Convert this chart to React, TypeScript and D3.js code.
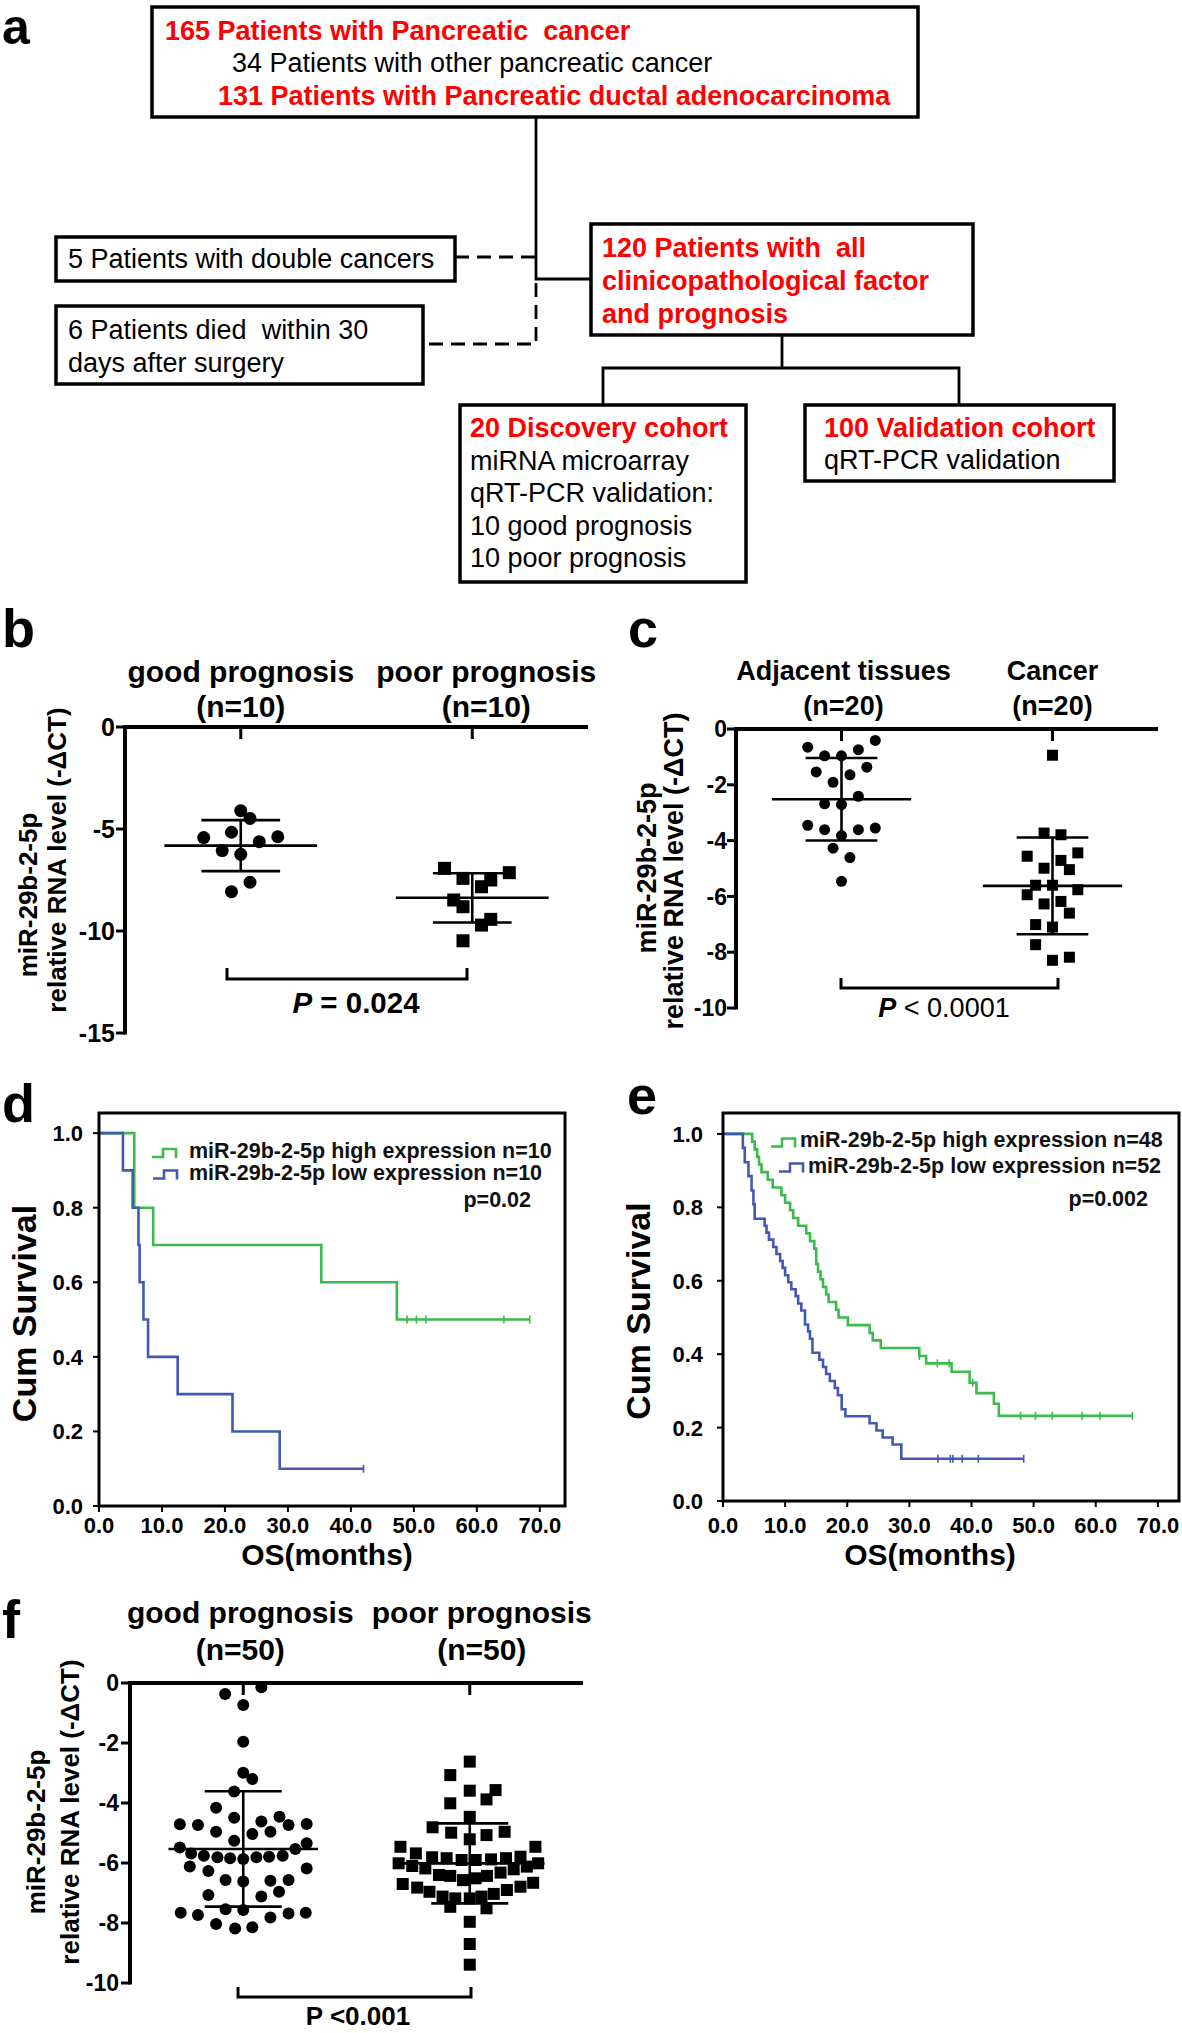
import React from 'react';
import * as d3 from 'd3';

const FONT = "'Liberation Sans', Arial, Helvetica, sans-serif";
const RED = '#ff0000';
const GREEN = '#3dba4e';
const BLUE = '#4358b5';

// ---------- Panel a : flow chart texts ----------
const aTopLines = ['165 Patients with Pancreatic  cancer', '34 Patients with other pancreatic cancer', '131 Patients with Pancreatic ductal adenocarcinoma'];
const aExcluded1 = ['5 Patients with double cancers'];
const aExcluded2 = ['6 Patients died  within 30', 'days after surgery'];
const aIncluded = ['120 Patients with  all', 'clinicopathological factor', 'and prognosis'];
const aDiscovery = ['20 Discovery cohort', 'miRNA microarray', 'qRT-PCR validation:', '10 good prognosis', '10 poor prognosis'];
const aValidation = ['100 Validation cohort', 'qRT-PCR validation'];

// ---------- Panel b ----------
const bCategories = ['good prognosis', 'poor prognosis'];
const bCounts = ['(n=10)', '(n=10)'];
const bGood = [-4.10, -4.48, -5.42, -5.16, -5.38, -5.62, -6.06, -6.24, -7.61, -8.07];
const bGoodJitter = [0, 2, -8, -2, 8, 4, -4, 0, 2, -2];
const bPoor = [-6.93, -7.14, -7.42, -7.50, -7.83, -8.48, -8.81, -9.43, -9.71, -10.48];
const bPoorJitter = [-6, 8, -2, 4, 2, -4, -2, 4, 2, -2];
const bTicks = [0, -5, -10, -15];

// ---------- Panel c ----------
const cCategories = ['Adjacent tissues', 'Cancer'];
const cCounts = ['(n=20)', '(n=20)'];
const cAdjacent = [-0.41, -0.65, -0.74, -0.96, -0.96, -1.37, -1.54, -1.64, -1.91, -2.41, -2.68, -2.71, -3.45, -3.61, -3.61, -3.55, -3.82, -4.27, -4.61, -5.46];
const cAdjacentJitter = [8, -8, 4, -4, 0, 6, -6, 2, -2, 4, -4, 0, -8, -4, 4, 8, 0, -2, 2, 0];
const cCancer = [-0.94, -3.73, -3.79, -4.56, -4.44, -4.71, -4.99, -5.04, -5.6, -5.6, -5.76, -5.94, -6.18, -6.27, -6.6, -7.01, -7.1, -7.73, -8.18, -8.29];
const cCancerJitter = [0, -2, 2, -6, 6, 2, -2, 4, -4, 0, 6, -6, 2, -2, 4, -4, 0, -4, 4, 0];
const cTicks = [0, -2, -4, -6, -8, -10];

// ---------- Panel d ----------
const dHighTimes = [5.6, 8.6, 35.3, 47.3];
const dHighSurv = [0.8, 0.7, 0.6, 0.5];
const dHighCensor = [48.9, 50.4, 51.9, 64.3, 68.4];
const dHighEnd = 68.4;
const dLowTimes = [3.8, 5.35, 6.27, 6.45, 7.06, 7.79, 12.49, 21.2, 28.7];
const dLowSurv = [0.9, 0.8, 0.7, 0.6, 0.5, 0.4, 0.3, 0.2, 0.1];
const dLowCensor = [42.0];
const dLowEnd = 42.0;

// ---------- Panel e ----------
const eHighTimes = [4.7, 5.1, 5.5, 5.8, 6.2, 7.2, 8.0, 9.4, 10.0, 10.8, 11.3, 12.1, 13.4, 14.0, 14.7, 15.0, 15.3, 15.7, 16.1, 16.6, 17.0, 18.2, 18.6, 20.1, 23.6, 24.1, 25.4, 31.6, 32.7, 36.8, 39.7, 40.8, 43.6, 44.4];
const eHighSurv = [0.979, 0.958, 0.9375, 0.917, 0.896, 0.875, 0.854, 0.833, 0.8125, 0.792, 0.771, 0.75, 0.729, 0.708, 0.6875, 0.646, 0.625, 0.604, 0.583, 0.5625, 0.542, 0.521, 0.5, 0.479, 0.458, 0.4375, 0.417, 0.395, 0.375, 0.352, 0.322, 0.294, 0.265, 0.232];
const eHighCensor = [31.6, 34.5, 36.4, 40.2, 47.9, 50.3, 53.0, 57.8, 60.7, 65.9];
const eHighEnd = 65.9;
const eLowTimes = [3.2, 3.5, 4.1, 4.6, 4.9, 5.1, 6.7, 7.0, 7.4, 8.1, 8.6, 9.2, 9.6, 10.0, 10.5, 11.0, 11.7, 12.1, 12.6, 13.2, 13.7, 14.0, 14.4, 15.5, 16.1, 16.6, 17.2, 18.0, 18.5, 19.1, 19.7, 23.6, 24.7, 25.7, 27.3, 28.7];
const eLowSurv = [0.962, 0.923, 0.885, 0.846, 0.808, 0.769, 0.75, 0.731, 0.712, 0.692, 0.673, 0.654, 0.635, 0.615, 0.596, 0.577, 0.558, 0.538, 0.519, 0.481, 0.462, 0.442, 0.404, 0.385, 0.365, 0.346, 0.327, 0.308, 0.288, 0.25, 0.231, 0.212, 0.192, 0.173, 0.154, 0.115];
const eLowCensor = [34.6, 36.6, 37.0, 38.5, 41.1, 48.4];
const eLowEnd = 48.4;

const kmTicksX = [0, 10, 20, 30, 40, 50, 60, 70];
const kmTicksY = [0, 0.2, 0.4, 0.6, 0.8, 1.0];

// ---------- Panel f ----------
const fCategories = ['good prognosis', 'poor prognosis'];
const fCounts = ['(n=50)', '(n=50)'];
const fGood = [-0.37, -0.14, -0.73, -1.96, -2.99, -3.2, -3.62, -4.16, -4.49, -4.46, -4.62, -4.71, -4.73, -4.73, -4.70, -4.96, -4.96, -5.03, -5.26, -5.48, -5.34, -5.53, -5.68, -5.76, -5.81, -5.84, -5.87, -5.81, -5.79, -5.76, -6.12, -6.18, -6.27, -6.57, -6.62, -6.59, -6.57, -6.96, -7.07, -7.12, -7.54, -7.57, -7.66, -7.73, -7.68, -7.66, -7.82, -8.03, -8.18, -8.14];
const fGoodJitter = [-4, 4, 0, 0, 0, 2, -2, -6, -2, 8, 4, -14, -10, 10, 14, -6, 6, 2, -2, -14, 14, 11.5, -11.5, -8.7, -5.7, -2.9, 0, 2.9, 5.7, 8.7, -11.8, 14, -7.7, -3.9, 0, 6, 10, 7.9, -7.7, 4, -3.9, 0, -13.8, -10, 10, 13.8, 6, -6, -1.8, 2];
const fPoor = [-2.62, -3.07, -3.59, -3.57, -3.88, -4.01, -4.46, -4.81, -4.99, -5.07, -4.96, -5.21, -5.46, -5.46, -5.68, -5.81, -5.84, -5.9, -5.9, -5.88, -5.84, -5.79, -6.01, -6.01, -6.1, -6.18, -6.4, -6.43, -6.57, -6.51, -6.43, -6.32, -6.21, -6.12, -6.7, -6.82, -6.96, -7.12, -7.18, -7.18, -7.12, -7.03, -6.9, -6.79, -6.66, -7.46, -7.51, -7.96, -8.7, -9.39];
const fPoorJitter = [0, -4.3, 0, 5.7, 3.7, -4.3, 0, -8.2, -4.1, 3.7, 7.7, 0, -15.3, 14.5, -11.9, -8.3, -5.1, -1.8, 1.3, 4.7, 8, 11.2, -15.7, 15.1, -12.7, -9.8, -6.8, -4.3, -1.5, 1.3, 3.8, 6.8, 9.7, 12.6, -14.8, -11.6, -8.9, -6, -3.2, 0, 2.6, 5.3, 8.2, 11.2, 14, -4.3, 3.7, 0, 0, 0];

type Group = { values: number[]; jitter: number[]; shape: 'circle' | 'square' };

function Flowchart() {
  const box = { stroke: '#000', strokeWidth: 3.5, fill: 'none' } as const;
  const ln = { stroke: '#000', strokeWidth: 2.8, fill: 'none' } as const;
  const T = (key: string, x: number, y: number, s: string, red: boolean, bold: boolean) => (
    <text key={key} x={x} y={y} fontSize={27} fill={red ? RED : '#000'} fontWeight={bold ? 700 : 400} style={{ whiteSpace: 'pre' }}>{s}</text>
  );
  return (
    <g>
      <rect x={152} y={7} width={766} height={110} {...box} />
      {T('t0', 165, 40, aTopLines[0], true, true)}
      {T('t1', 232, 72, aTopLines[1], false, false)}
      {T('t2', 218, 105, aTopLines[2], true, true)}

      <path d="M536,117 V279 H591" {...ln} />
      <path d="M455,257 H536" {...ln} strokeDasharray="14 8" />
      <path d="M536,283 V344 H423" {...ln} strokeDasharray="14 8" />

      <rect x={56} y={237} width={399} height={44} {...box} />
      {aExcluded1.map((s, i) => T('e1' + i, 68, 268 + i * 33, s, false, false))}
      <rect x={56} y={306} width={367} height={78} {...box} />
      {aExcluded2.map((s, i) => T('e2' + i, 68, 339 + i * 33, s, false, false))}

      <rect x={591} y={224} width={382} height={111} {...box} />
      {aIncluded.map((s, i) => T('in' + i, 602, 257 + i * 33, s, true, true))}

      <path d="M782,335 V368 M603,405 V368 H959 V405" {...ln} />

      <rect x={460} y={405} width={286} height={177} {...box} />
      {aDiscovery.map((s, i) => T('di' + i, 470, 437 + i * 32.5, s, i === 0, i === 0))}
      <rect x={805} y={405} width={309} height={76} {...box} />
      {aValidation.map((s, i) => T('va' + i, 824, 437 + i * 31.5, s, i === 0, i === 0))}
    </g>
  );
}

function DotPanel(p: any) {
  const y = d3.scaleLinear().domain([0, p.yMin]).range([p.y0, p.y1]);
  const x = d3.scalePoint<string>().domain(p.cats).range([p.ax, p.axEnd]).padding(0.5);
  const step = x.step();
  const u = step * 0.02;
  const groups: Group[] = p.groups;
  return (
    <g>
      <line x1={p.ax} x2={p.axEnd} y1={p.y0} y2={p.y0} stroke="#000" strokeWidth={4} />
      <line x1={p.ax} x2={p.ax} y1={p.y0 - 2} y2={p.y1 + 1.5} stroke="#000" strokeWidth={4} />
      {p.ticks.map((t: number) => (
        <g key={t}>
          <line x1={p.ax - 9} x2={p.ax} y1={y(t)} y2={y(t)} stroke="#000" strokeWidth={3} />
          <text x={p.tickRight} y={y(t) + p.tickFont * 0.36} textAnchor="end" fontSize={p.tickFont} fontWeight={700}>{String(t)}</text>
        </g>
      ))}
      {p.cats.map((c: string, i: number) => (
        <g key={c}>
          <line x1={x(c)} x2={x(c)} y1={p.y0} y2={p.y0 + 12} stroke="#000" strokeWidth={3} />
          <text x={x(c)! + p.catShift[i]} y={p.catBase} textAnchor="middle" fontSize={p.catFont} fontWeight={700}>{c}</text>
          <text x={x(c)! + p.catShift[i]} y={p.countBase} textAnchor="middle" fontSize={p.catFont} fontWeight={700}>{p.counts[i]}</text>
        </g>
      ))}
      {groups.map((g, gi) => {
        const cx = x(p.cats[gi])!;
        const m = d3.mean(g.values)!;
        const s = d3.deviation(g.values)!;
        return (
          <g key={gi}>
            {g.values.map((v, i) =>
              g.shape === 'circle' ? (
                <circle key={i} cx={cx + g.jitter[i] * u} cy={y(v)} r={p.r} fill="#000" />
              ) : (
                <rect key={i} x={cx + g.jitter[i] * u - p.r} y={y(v) - p.r} width={2 * p.r} height={2 * p.r} fill="#000" />
              )
            )}
            <line x1={cx - 0.33 * step} x2={cx + 0.33 * step} y1={y(m)} y2={y(m)} stroke="#000" strokeWidth={2.6} />
            <line x1={cx - 0.17 * step} x2={cx + 0.17 * step} y1={y(m + s)} y2={y(m + s)} stroke="#000" strokeWidth={2.6} />
            <line x1={cx - 0.17 * step} x2={cx + 0.17 * step} y1={y(m - s)} y2={y(m - s)} stroke="#000" strokeWidth={2.6} />
            <line x1={cx} x2={cx} y1={y(m + s)} y2={y(m - s)} stroke="#000" strokeWidth={2.6} />
          </g>
        );
      })}
      <path d={`M${p.br.l},${p.br.y - p.br.h} V${p.br.y} H${p.br.r} V${p.br.y - p.br.h}`} fill="none" stroke="#000" strokeWidth={3} />
      {p.pText}
      <text transform={`translate(${p.t1x},${p.t1c}) rotate(-90)`} textAnchor="middle" fontSize={p.titleFont} fontWeight={700}>miR-29b-2-5p</text>
      <text transform={`translate(${p.t2x},${p.t2c}) rotate(-90)`} textAnchor="middle" fontSize={p.titleFont} fontWeight={700}>relative RNA level (-ΔCT)</text>
    </g>
  );
}

type Series = { times: number[]; surv: number[]; censor: number[]; end: number; color: string; label: string };

function KMPanel(p: any) {
  const x = d3.scaleLinear().domain([0, p.xMax]).range([p.left, p.right]);
  const y = d3.scaleLinear().domain([0, p.yMax]).range([p.bottom, p.top]);
  const fmt = d3.format('.1f');
  const series: Series[] = p.series;
  const survAt = (s: Series, t: number) => {
    let v = 1;
    s.times.forEach((tt, i) => { if (tt <= t) v = s.surv[i]; });
    return v;
  };
  return (
    <g>
      {series.map((s, si) => {
        let d = `M${x(0)},${y(1)}`;
        s.times.forEach((t, i) => { d += `H${x(t)}V${y(s.surv[i])}`; });
        d += `H${x(s.end)}`;
        return (
          <g key={si}>
            <path d={d} fill="none" stroke={s.color} strokeWidth={2.6} />
            {s.censor.map((c, ci) => (
              <line key={ci} x1={x(c)} x2={x(c)} y1={y(survAt(s, c)) - 4} y2={y(survAt(s, c)) + 4} stroke={s.color} strokeWidth={1.6} />
            ))}
          </g>
        );
      })}
      <rect x={p.left} y={p.top} width={p.right - p.left} height={p.bottom - p.top} fill="none" stroke="#000" strokeWidth={3} />
      {kmTicksY.map(t => (
        <g key={t}>
          <line x1={p.left - 6} x2={p.left} y1={y(t)} y2={y(t)} stroke="#000" strokeWidth={2} />
          <text x={p.left - p.yLabGap} y={y(t) + 8} textAnchor="end" fontSize={22} fontWeight={700}>{fmt(t)}</text>
        </g>
      ))}
      {kmTicksX.map(t => (
        <g key={t}>
          <line x1={x(t)} x2={x(t)} y1={p.bottom} y2={p.bottom + 6} stroke="#000" strokeWidth={2} />
          <text x={x(t)} y={1533} textAnchor="middle" fontSize={22} fontWeight={700}>{fmt(t)}</text>
        </g>
      ))}
      <text x={p.osX} y={1565} textAnchor="middle" fontSize={30} fontWeight={700}>OS(months)</text>
      <text transform={`translate(${p.cumX},${(p.top + p.bottom) / 2 + 4}) rotate(-90)`} textAnchor="middle" fontSize={34} fontWeight={700}>Cum Survival</text>
      {series.map((s, si) => {
        const lg = p.legend[si];
        return (
          <g key={'lg' + si}>
            <path d={`M${lg.ix},${lg.iy} H${lg.ix + 11} V${lg.iy - 8} H${lg.ix + 24} V${lg.iy + 1}`} fill="none" stroke={s.color} strokeWidth={2.6} />
            <text x={lg.tx} y={lg.ty} fontSize={21.5} fontWeight={700} fill="#111">{s.label}</text>
          </g>
        );
      })}
      <text x={p.pRight} y={p.pBase} textAnchor="end" fontSize={21.5} fontWeight={700} fill="#111">{p.pLabel}</text>
    </g>
  );
}

export default function App() {
  const bGroups: Group[] = [
    { values: bGood, jitter: bGoodJitter, shape: 'circle' },
    { values: bPoor, jitter: bPoorJitter, shape: 'square' },
  ];
  const cGroups: Group[] = [
    { values: cAdjacent, jitter: cAdjacentJitter, shape: 'circle' },
    { values: cCancer, jitter: cCancerJitter, shape: 'square' },
  ];
  const fGroups: Group[] = [
    { values: fGood, jitter: fGoodJitter, shape: 'circle' },
    { values: fPoor, jitter: fPoorJitter, shape: 'square' },
  ];
  const dSeries: Series[] = [
    { times: dHighTimes, surv: dHighSurv, censor: dHighCensor, end: dHighEnd, color: GREEN, label: 'miR-29b-2-5p high expression n=10' },
    { times: dLowTimes, surv: dLowSurv, censor: dLowCensor, end: dLowEnd, color: BLUE, label: 'miR-29b-2-5p low expression n=10' },
  ];
  const eSeries: Series[] = [
    { times: eHighTimes, surv: eHighSurv, censor: eHighCensor, end: eHighEnd, color: GREEN, label: 'miR-29b-2-5p high expression n=48' },
    { times: eLowTimes, surv: eLowSurv, censor: eLowCensor, end: eLowEnd, color: BLUE, label: 'miR-29b-2-5p low expression n=52' },
  ];
  const L = (s: string, x: number, y: number, size = 54) => (
    <text x={x} y={y} fontSize={size} fontWeight={700}>{s}</text>
  );
  return (
    <div style={{ position: 'absolute', left: 0, top: 0 }}>
      <svg width={1182} height={2033} viewBox="0 0 1182 2033" style={{ display: 'block', background: '#fff' }} fontFamily={FONT}>
        <rect x={0} y={0} width={1182} height={2033} fill="#fff" />
        {L('a', 2, 44, 50)}
        <Flowchart />

        {L('b', 2, 647)}
        <DotPanel
          cats={bCategories} counts={bCounts} groups={bGroups} ticks={bTicks} yMin={-15}
          ax={125} axEnd={588} y0={727} y1={1033}
          tickRight={115} tickFont={25}
          catFont={30} catBase={682} countBase={717} catShift={[0, 14]}
          titleFont={26} t1x={37} t1c={895} t2x={66} t2c={860}
          r={6.5}
          br={{ l: 227, r: 467, y: 979, h: 11 }}
          pText={<text x={356} y={1013} textAnchor="middle" fontSize={29.5} fontWeight={700}><tspan fontStyle="italic">P</tspan> = 0.024</text>}
        />

        {L('c', 628, 647)}
        <DotPanel
          cats={cCategories} counts={cCounts} groups={cGroups} ticks={cTicks} yMin={-10}
          ax={736} axEnd={1158} y0={729} y1={1008}
          tickRight={727} tickFont={23}
          catFont={27} catBase={680} countBase={715} catShift={[2, 0]}
          titleFont={27} t1x={656} t1c={868} t2x={683} t2c={871}
          r={5.5}
          br={{ l: 841, r: 1058, y: 988, h: 10 }}
          pText={<text x={944} y={1017} textAnchor="middle" fontSize={27}><tspan fontStyle="italic" fontWeight={700}>P</tspan> &lt; 0.0001</text>}
        />

        {L('d', 2, 1122)}
        <KMPanel
          series={dSeries} xMax={74} yMax={1.054} left={99} right={565} top={1113} bottom={1506}
          yLabGap={16} osX={327} cumX={36}
          legend={[{ ix: 152, iy: 1157, tx: 189, ty: 1158 }, { ix: 153, iy: 1178.5, tx: 189, ty: 1179.5 }]}
          pRight={531} pBase={1207} pLabel="p=0.02"
        />

        {L('e', 627, 1114)}
        <KMPanel
          series={eSeries} xMax={73.4} yMax={1.057} left={723} right={1179} top={1113} bottom={1501}
          yLabGap={20} osX={930} cumX={650}
          legend={[{ ix: 771, iy: 1146.5, tx: 800, ty: 1147 }, { ix: 779, iy: 1171.5, tx: 808, ty: 1173 }]}
          pRight={1148} pBase={1206} pLabel="p=0.002"
        />

        {L('f', 2, 1638)}
        <DotPanel
          cats={fCategories} counts={fCounts} groups={fGroups} ticks={cTicks} yMin={-10}
          ax={130} axEnd={583} y0={1683} y1={1983}
          tickRight={119} tickFont={23}
          catFont={30} catBase={1623} countBase={1660} catShift={[-3, 12]}
          titleFont={26} t1x={45} t1c={1832} t2x={79} t2c={1812}
          r={6}
          br={{ l: 238, r: 471, y: 1997, h: 10 }}
          pText={<text x={358} y={2025} textAnchor="middle" fontSize={26} fontWeight={700}>P &lt;0.001</text>}
        />
      </svg>
    </div>
  );
}
